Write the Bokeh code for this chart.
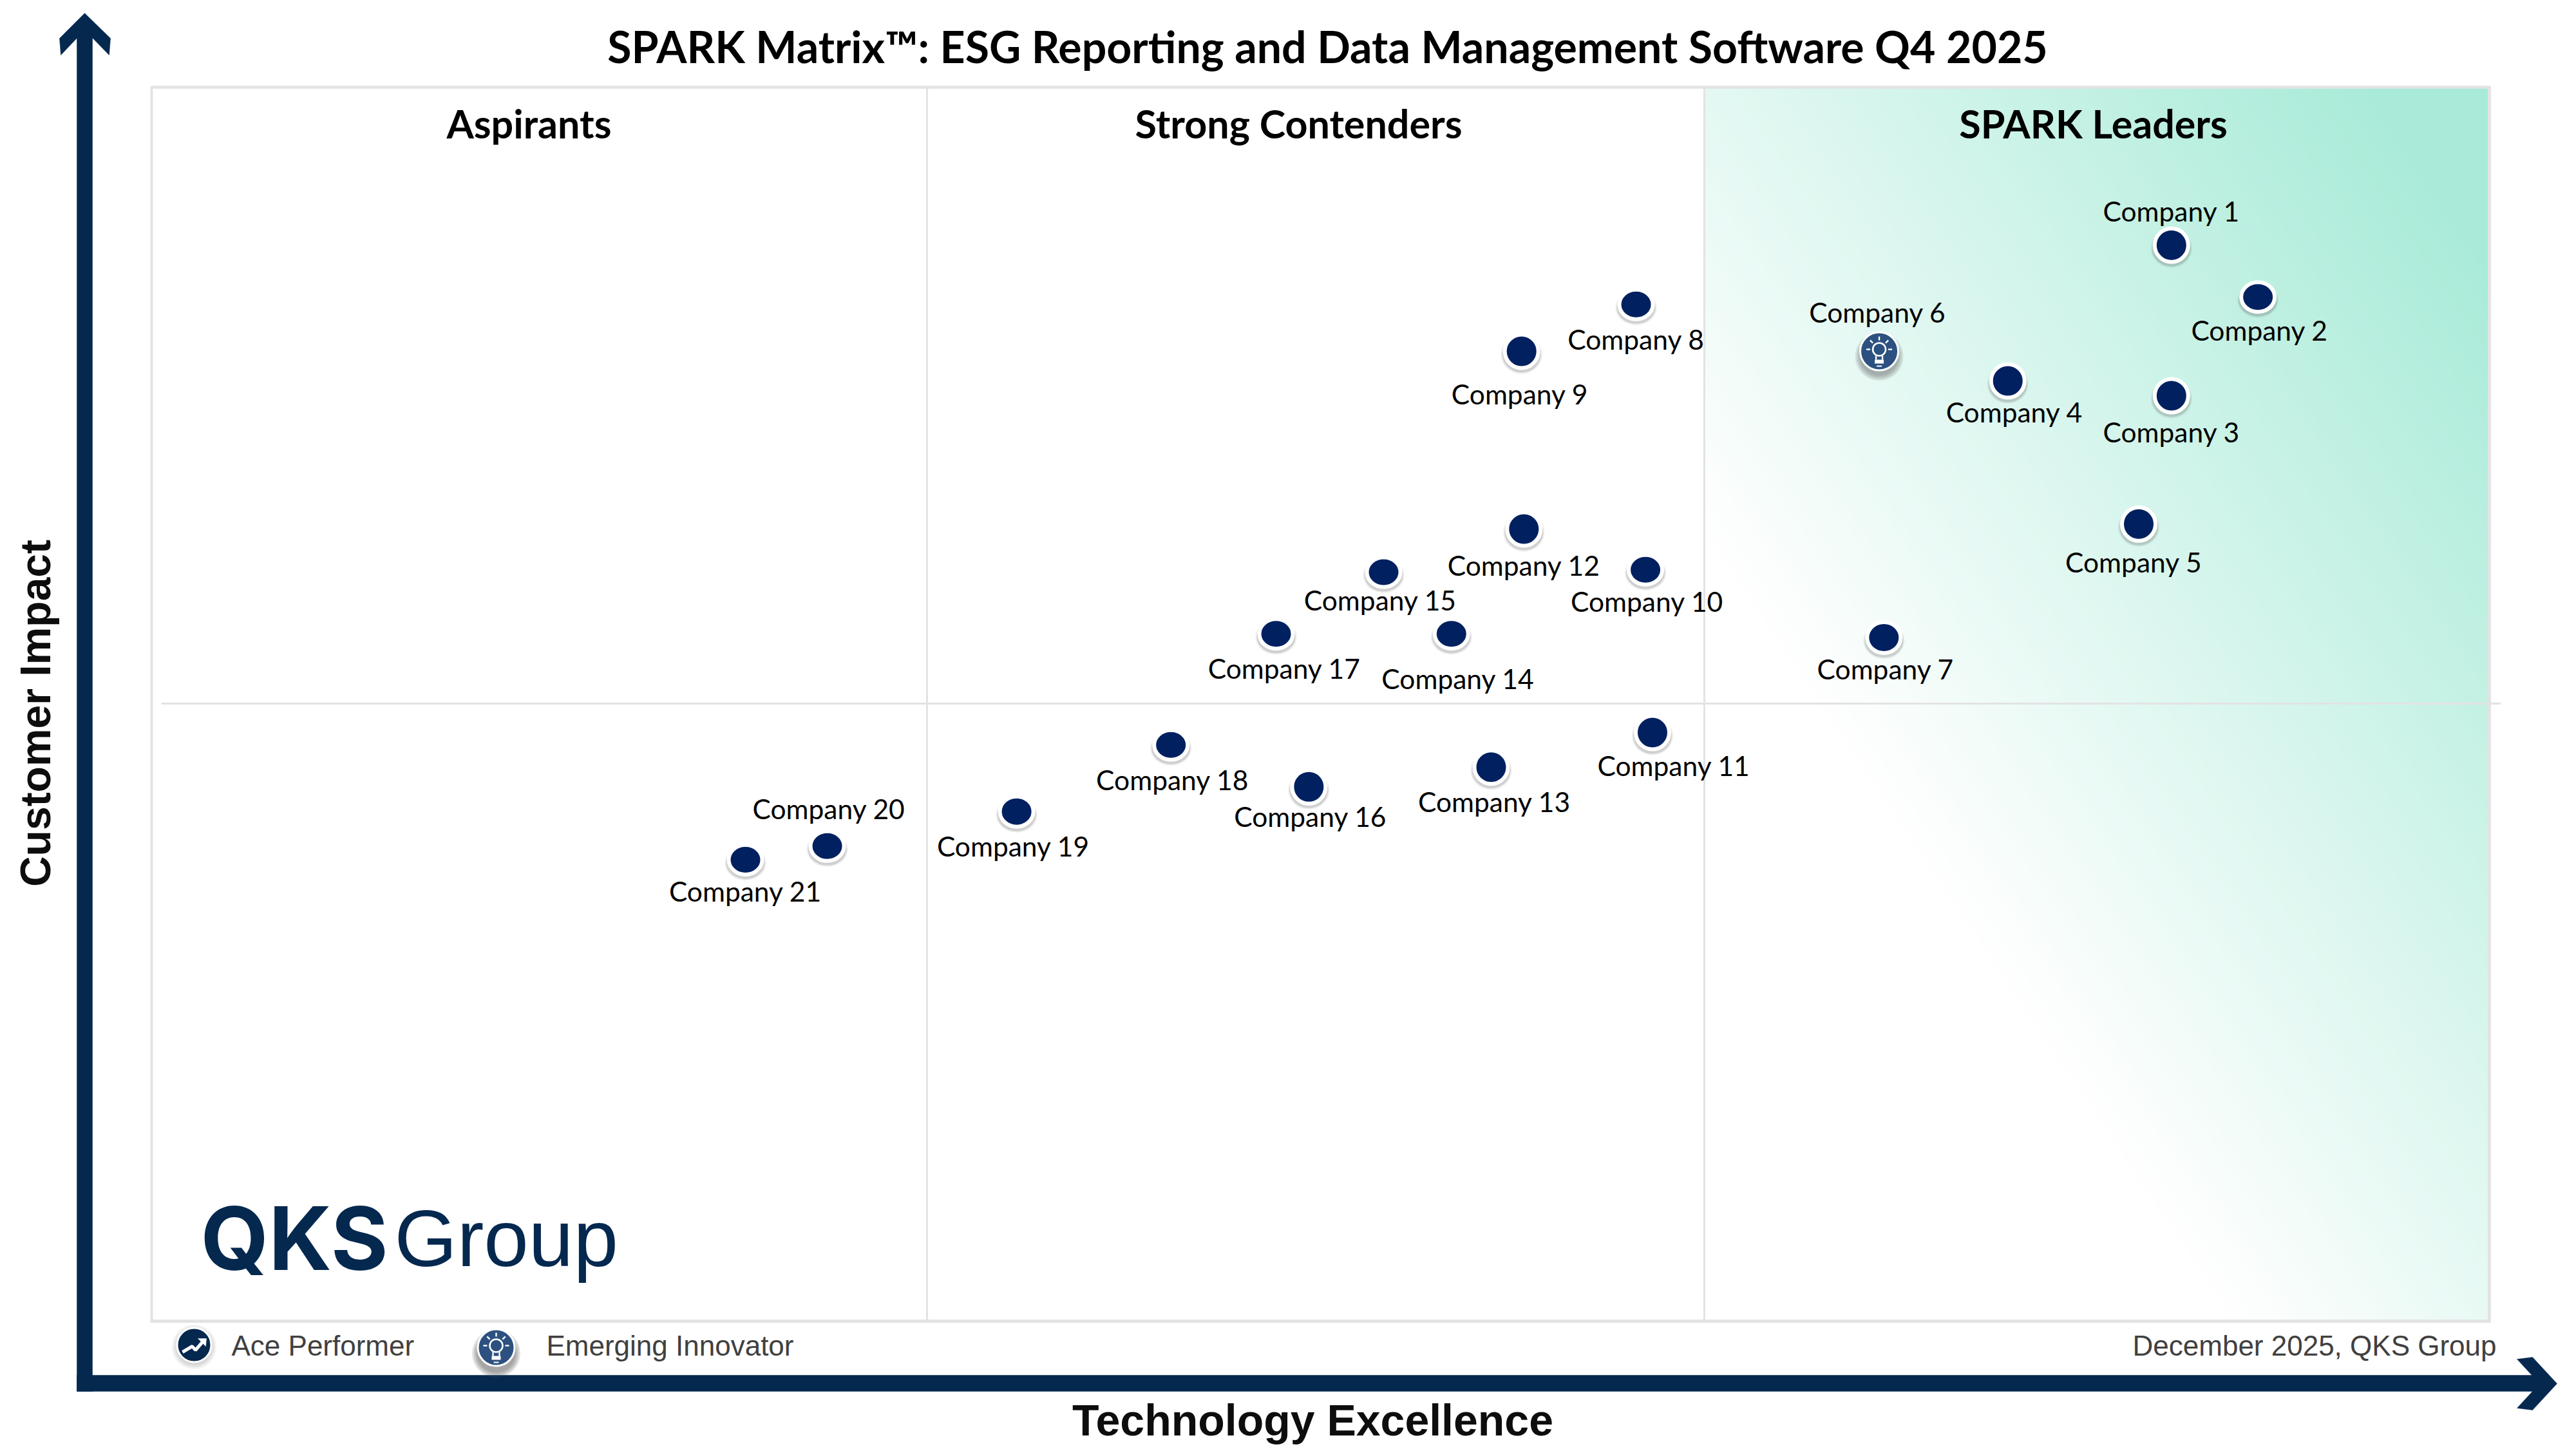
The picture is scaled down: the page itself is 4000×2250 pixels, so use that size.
import numpy as np
from bokeh.plotting import figure
from bokeh.models import Range1d, ColumnDataSource
from bokeh.core.properties import value
from bokeh.embed import file_html
from bokeh.resources import INLINE

# ---- data (technology excellence, customer impact, 0-100 inside the matrix)
companies = ["Company %d" % i for i in range(1, 22)]
tech = [86.4, 90.1, 86.4, 79.4, 85.0, 73.9, 74.1, 63.5, 58.6, 63.9, 64.2,
        58.7, 57.3, 55.6, 52.7, 49.5, 48.1, 43.6, 37.0, 28.9, 25.4]
impact = [87.2, 83.0, 75.0, 76.2, 64.6, 78.6, 55.4, 82.4, 78.6, 60.9, 47.7,
          64.2, 44.9, 55.7, 60.7, 43.3, 55.7, 46.7, 41.3, 38.5, 37.4]
innovators = ["Company 6"]
quadrants = ["Aspirants", "Strong Contenders", "SPARK Leaders"]
title = "SPARK Matrix\u2122: ESG Reporting and Data Management Software Q4 2025"
x_title = "Technology Excellence"
y_title = "Customer Impact"
legend_items = ["Ace Performer", "Emerging Innovator"]
credit = "December 2025, QKS Group"

# ---- layout
L, R, T, B = 235.0, 3865.0, 135.0, 2051.0
def X(px): return (np.asarray(px, dtype=float) - L) / (R - L) * 100
def Y(py): return (B - np.asarray(py, dtype=float)) / (B - T) * 100

lab_off = [(0, -21), (1, 20), (0, 22), (4, 19), (-3, 23), (-1, -24), (1, 19), (0, 21), (-1, 26), (1, 19), (13, 20),
           (0, 22), (2, 21), (4, 27), (-2, 17), (1, 18), (5, 21), (1, 21), (-2, 21), (1, -23), (0, 19)]
marker_h = [46, 40, 46, 46, 46, 46, 42, 40, 46, 40, 46, 46, 46, 40, 40, 46, 40, 40, 41, 40, 40]
K = 2.551

NAVY = "#05284F"
MARK = "#002060"
BULB = "#2C5180"
GRID = "#E3E3E3"

p = figure(width=4000, height=2250, x_range=Range1d(float(X(0)), float(X(4000))),
           y_range=Range1d(float(Y(2250)), float(Y(0))), x_axis_type=None, y_axis_type=None,
           min_border=0, toolbar_location=None, output_backend="svg",
           outline_line_color=None, background_fill_color="white", border_fill_color="white")
p.grid.visible = False

# gradient of the leaders' quadrant
W, H = 606, 958
xs = np.linspace(2647, 3865, W)
ys = np.linspace(2051, 135, H)
gx, gy = np.meshgrid(xs, ys)
t = np.clip((0.83 * gx - 0.557 * gy - 1738) / (3000 - 1738), 0, 1)
c0, c1 = np.array([255, 255, 255]), np.array([168, 235, 216])
img = np.zeros((H, W, 4), dtype=np.uint8)
for k in range(3):
    img[..., k] = (c0[k] + (c1[k] - c0[k]) * t).astype(np.uint8)
img[..., 3] = 255
p.image_rgba(image=[img.view(np.uint32).reshape(H, W)], x=float(X(2647)), y=float(Y(2051)),
             dw=float(X(3865) - X(2647)), dh=float(Y(135) - Y(2051)))

# frame and dividers
def seg(x0, y0, x1, y1, color=GRID, w=3.0):
    p.line([float(X(x0)), float(X(x1))], [float(Y(y0)), float(Y(y1))], line_color=color, line_width=w)
seg(235, 135, 3866, 135, w=4.5)
seg(235, 133, 235, 2053, w=4)
seg(3865, 133, 3865, 2053, w=5)
seg(233, 2051, 3867, 2051, w=5)
seg(1439, 135, 1439, 2051, w=3)
seg(2646, 135, 2646, 2051, w=3)
seg(250, 1092, 3883, 1092, w=3)

# axis arrows
def poly(pts, color=NAVY):
    p.patch([float(X(a)) for a, b in pts], [float(Y(b)) for a, b in pts], fill_color=color, line_color=color, line_width=0.5)
poly([(119, 2160), (119, 45), (143, 45), (143, 2160)])
poly([(119, 2135), (3945, 2135), (3945, 2160), (119, 2160)])
poly([(131, 20), (171, 59), (169, 85), (131, 46), (94, 85), (92, 59)])
poly([(3970, 2148), (3932, 2107), (3908, 2110), (3943, 2148), (3908, 2186), (3932, 2189)])

# titles and texts
def txt(px, py, s, size, font, color="black", bold=False, align="center", angle=0.0):
    p.text([float(X(px))], [float(Y(py))], text=[s], text_font=value(font), text_font_size="%gpx" % size,
           text_font_style="bold" if bold else "normal", text_color=color, text_align=align,
           text_baseline="middle", angle=angle)
txt(2061, 71, title, 68, "Lato", bold=True)
txt(821, 191, quadrants[0], 61, "Lato", bold=True)
txt(2016, 191, quadrants[1], 61, "Lato", bold=True)
txt(3250, 191, quadrants[2], 61, "Lato", bold=True)
txt(2038, 2204, x_title, 68, "Liberation Sans", color="#0D0D0D", bold=True)
txt(54, 1107, y_title, 66, "Liberation Sans", color="#0D0D0D", bold=True, angle=np.pi / 2)
txt(359, 2089, legend_items[0], 44, "Liberation Sans", color="#404040", align="left")
txt(848, 2089, legend_items[1], 44, "Liberation Sans", color="#404040", align="left")
txt(3876, 2089, credit, 44, "Liberation Sans", color="#404040", align="right")

# logo
txt(311, 1922, "QKS", 136, "Inter", color=NAVY, bold=True, align="left")
txt(612, 1922, "Group", 125, "Liberation Sans", color=NAVY, align="left")

# bulb icon, drawn around a centre given in page pixels
def bulb_icon(cx, cy):
    by = cy - 3
    for a in np.deg2rad([0, 45, 90, 135, 180]):
        seg(cx + 14 * np.cos(a), by - 14 * np.sin(a), cx + 20 * np.cos(a), by - 20 * np.sin(a), color="white", w=2.4)
    p.scatter([float(X(cx))], [float(Y(by))], size=20, marker="circle", fill_color=BULB, line_color="white", line_width=2.6)
    seg(cx - 5, by + 10, cx - 5, by + 16, color="white", w=2.4)
    seg(cx + 5, by + 10, cx + 5, by + 16, color="white", w=2.4)
    seg(cx - 7, cy + 16, cx + 7, cy + 16, color="white", w=6)
    seg(cx - 4, cy + 23, cx + 4, cy + 23, color="white", w=2)

def shadow(cx, cy, size, alpha, dy):
    for k in range(4):
        p.scatter([float(X(cx))], [float(Y(cy + dy))], size=size + 5 * k, marker="circle",
                  fill_color="#505050", fill_alpha=alpha, line_color=None)

# legend icons
shadow(301, 2088, 54, 0.07, 3)
p.scatter([float(X(301))], [float(Y(2088))], size=53, marker="circle", fill_color=NAVY, line_color="white", line_width=3)
p.line([float(X(a)) for a in (283, 298, 303, 316)], [float(Y(b)) for b in (2099, 2090, 2096, 2081)],
       line_color="white", line_width=5)
poly([(307, 2078), (320, 2078), (319, 2090)], color="white")
shadow(770, 2092, 60, 0.16, 9)
p.scatter([float(X(770))], [float(Y(2092))], size=57, marker="circle", fill_color=BULB, line_color="white", line_width=3)
bulb_icon(770, 2092)

# companies
lab = ColumnDataSource(dict(x=tech, y=impact, text=companies,
                            dx=[a * K for a, b in lab_off], dy=[b * K for a, b in lab_off]))
plain = [i for i, c in enumerate(companies) if c not in innovators]
bulbs = [i for i, c in enumerate(companies) if c in innovators]
shift = 100.0 / (B - T)
pts = ColumnDataSource(dict(x=[tech[i] for i in plain], y=[impact[i] for i in plain],
                            sy=[impact[i] - 5 * shift for i in plain],
                            h=[marker_h[i] + 6 for i in plain],
                            h1=[marker_h[i] + 10 for i in plain],
                            h2=[marker_h[i] + 14 for i in plain]))
for wd, col, a in ((64, "h2", 0.10), (60, "h1", 0.18)):
    p.ellipse("x", "sy", width=wd, height=col, width_units="screen", height_units="screen", source=pts,
              fill_color="#505050", fill_alpha=a, line_color=None)
p.ellipse("x", "y", width=52, height="h", width_units="screen", height_units="screen", source=pts,
          fill_color=MARK, line_color="white", line_width=6)
for i in bulbs:
    cx = L + tech[i] / 100 * (R - L)
    cy = B - impact[i] / 100 * (B - T)
    shadow(cx, cy, 60, 0.13, 8)
    p.scatter([tech[i]], [impact[i]], size=59, marker="circle", fill_color=BULB, line_color="white", line_width=3)
    bulb_icon(cx, cy)
p.text("x", "y", text="text", x_offset="dx", y_offset="dy", source=lab, text_font=value("Lato"),
       text_font_size="42.5px", text_color="black", text_align="center", text_baseline="middle")

open("out.html", "w").write(file_html(p, INLINE))
